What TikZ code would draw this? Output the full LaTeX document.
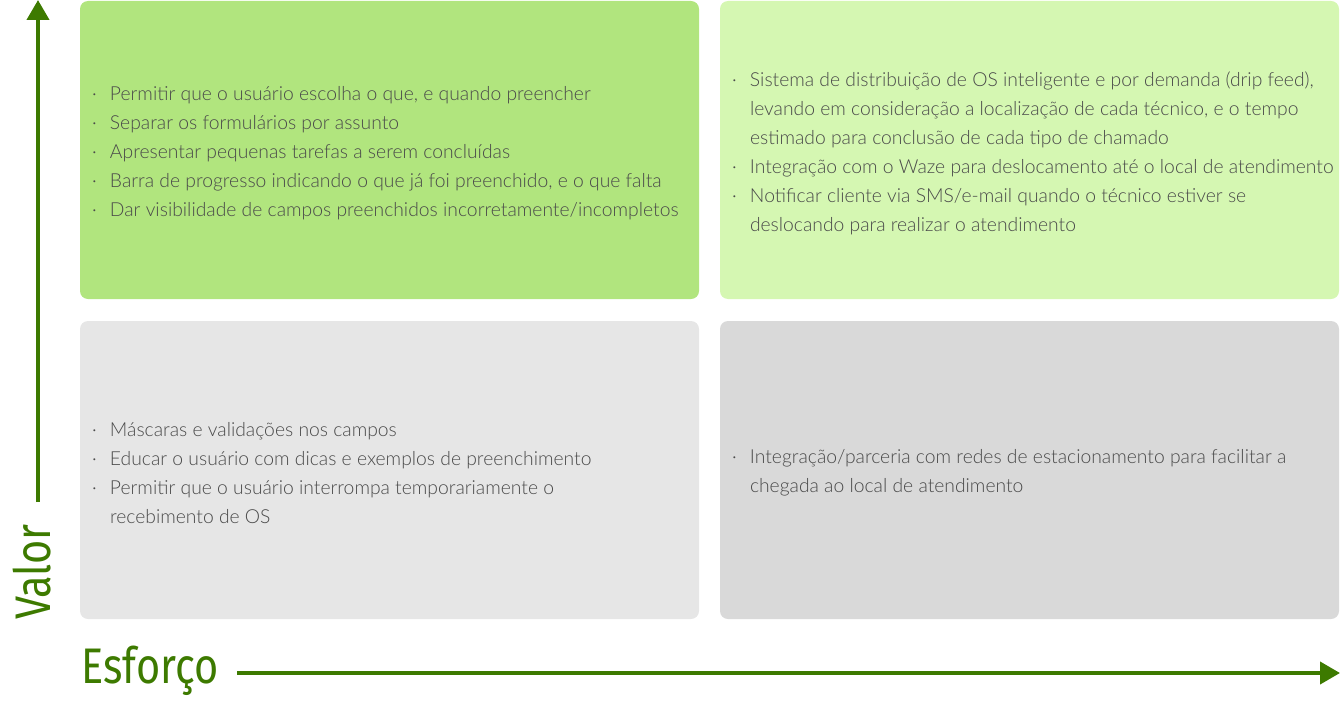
\documentclass[tikz,border=0pt]{standalone}
\usepackage{fontspec}
\usetikzlibrary{arrows.meta,positioning}
\newfontfamily\bodyfont{Lato Light}
\newfontfamily\axisfont{Fira Sans}[FakeStretch=0.83]
\definecolor{axisgreen}{HTML}{3D7A00}
\definecolor{boxA}{HTML}{B1E57E}
\definecolor{boxB}{HTML}{D5F7B2}
\definecolor{boxC}{HTML}{E6E6E6}
\definecolor{boxD}{HTML}{D9D9D9}
\definecolor{txtgray}{HTML}{4A4A4A}
\newcommand{\itemdot}{\makebox[19pt][l]{\hspace{1pt}·}}
\newcommand{\itemgap}{\hspace*{19pt}}
\begin{document}
\begin{tikzpicture}[x=1pt, y=-1pt,
    quad/.style={rounded corners=8pt, minimum width=619pt, minimum height=298pt, inner sep=0pt},
    items/.style={inner sep=0pt, yshift=-3pt, align=left, text=txtgray, font=\bodyfont\fontsize{19.3}{29}\selectfont},
    axis/.style={line width=4pt, axisgreen, -{Triangle[width=22pt, length=20pt]}},
    axislabel/.style={inner sep=0pt, text=axisgreen, font=\axisfont\fontsize{50}{50}\selectfont}]
    \useasboundingbox (0,0) rectangle (1340,701);

    % quadrantes
    \node[quad, fill=boxA] (tl) at (389.5,150) {};
    \node[quad, fill=boxB] (tr) at (1029.5,150) {};
    \node[quad, fill=boxC] (bl) at (389.5,470) {};
    \node[quad, fill=boxD] (br) at (1029.5,470) {};

    \node[items, right=11pt of tl.west] (tltext) {\itemdot Permitir que o usuário escolha o que, e quando preencher\\
        \itemdot Separar os formulários por assunto\\
        \itemdot Apresentar pequenas tarefas a serem concluídas\\
        \itemdot Barra de progresso indicando o que já foi preenchido, e o que falta\\
        \itemdot Dar visibilidade de campos preenchidos incorretamente/incompletos};
    \node[items, right=11pt of tr.west] (trtext) {\itemdot Sistema de distribuição de OS inteligente e por demanda (drip feed),\\
        \itemgap levando em consideração a localização de cada técnico, e o tempo\\
        \itemgap estimado para conclusão de cada tipo de chamado\\
        \itemdot Integração com o Waze para deslocamento até o local de atendimento\\
        \itemdot Notificar cliente via SMS/e-mail quando o técnico estiver se\\
        \itemgap deslocando para realizar o atendimento};
    \node[items, right=11pt of bl.west] (bltext) {\itemdot Máscaras e validações nos campos\\
        \itemdot Educar o usuário com dicas e exemplos de preenchimento\\
        \itemdot Permitir que o usuário interrompa temporariamente o\\
        \itemgap recebimento de OS};
    \node[items, right=11pt of br.west] (brtext) {\itemdot Integração/parceria com redes de estacionamento para facilitar a\\
        \itemgap chegada ao local de atendimento};

    % eixos
    \coordinate (vbase) at (38,502);
    \coordinate (vtip) at (38,0);
    \coordinate (hbase) at (237,673);
    \coordinate (htip) at (1340,673);
    \draw[axis] (vbase) -- (vtip);
    \draw[axis] (hbase) -- (htip);
    \node[axislabel, rotate=90, anchor=west] (valor) at (32,620) {Valor};
    \node[axislabel, anchor=west] (esforco) at (81,671) {Esforço};
\end{tikzpicture}
\end{document}
